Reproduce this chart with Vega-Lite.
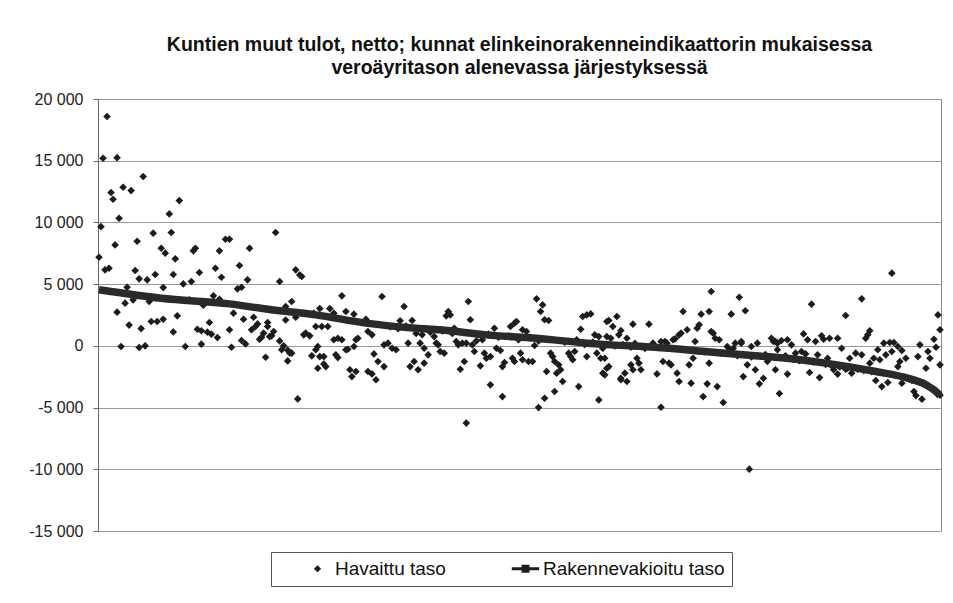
{
  "$schema": "https://vega.github.io/schema/vega-lite/v6.json",
  "width": 843,
  "height": 432,
  "autosize": {"type": "none"},
  "padding": {"left": 98, "top": 99, "right": 12, "bottom": 72},
  "background": "white",
  "title": {
    "text": ["Kuntien muut tulot, netto; kunnat elinkeinorakenneindikaattorin mukaisessa", "veroäyritason alenevassa järjestyksessä"],
    "anchor": "middle",
    "fontSize": 19.5,
    "fontWeight": "bold",
    "font": "Liberation Sans",
    "color": "#111",
    "lineHeight": 23,
    "offset": 13
  },
  "config": {
    "font": "Liberation Sans",
    "view": {"stroke": "#8a8a8a", "strokeWidth": 1},
    "axis": {"labelFont": "Liberation Sans"},
    "legend": {"labelFont": "Liberation Sans"}
  },
  "datasets": {
    "obs": [
      {"i":1,"v":7180},{"i":2,"v":9660},{"i":3,"v":15200},{"i":4,"v":6160},{"i":5,"v":18580},{"i":6,"v":6290},{"i":7,"v":12420},{"i":8,"v":11880},{"i":9,"v":8180},{"i":10,"v":15250},{"i":11,"v":10340},{"i":13,"v":12850},{"i":17,"v":12580},{"i":23,"v":13720},{"i":41,"v":11770},{"i":36,"v":10690},{"i":28,"v":9130},{"i":37,"v":9180},{"i":20,"v":8480},{"i":32,"v":7910},{"i":34,"v":7510},{"i":39,"v":7050},{"i":19,"v":6100},{"i":21,"v":5430},{"i":25,"v":5350},{"i":29,"v":5780},{"i":38,"v":5780},{"i":33,"v":4720},{"i":43,"v":5020},{"i":47,"v":5210},{"i":49,"v":7910},{"i":48,"v":7700},{"i":51,"v":5940},{"i":59,"v":6290},{"i":62,"v":5560},{"i":61,"v":7700},{"i":64,"v":8640},{"i":66,"v":8640},{"i":76,"v":7910},{"i":71,"v":6510},{"i":75,"v":5350},{"i":70,"v":4620},{"i":72,"v":4750},{"i":15,"v":4750},
      {"i":10,"v":2730},{"i":14,"v":3460},{"i":18,"v":3730},{"i":26,"v":3590},{"i":16,"v":1680},{"i":22,"v":1400},{"i":27,"v":1970},{"i":30,"v":1970},{"i":33,"v":2160},{"i":38,"v":1130},{"i":40,"v":2430},{"i":46,"v":3730},{"i":50,"v":1350},{"i":52,"v":1220},{"i":55,"v":1110},{"i":57,"v":950},{"i":60,"v":670},{"i":56,"v":1890},{"i":53,"v":3300},{"i":58,"v":4050},{"i":61,"v":3780},{"i":66,"v":1300},{"i":68,"v":2650},{"i":73,"v":2160},{"i":78,"v":2320},{"i":77,"v":1300},{"i":79,"v":1570},{"i":80,"v":1780},{"i":72,"v":430},{"i":74,"v":160},{"i":67,"v":-110},{"i":81,"v":540},{"i":82,"v":700},{"i":84,"v":-920},{"i":12,"v":-50},{"i":21,"v":-130},{"i":24,"v":0},{"i":44,"v":-50},{"i":52,"v":140},{"i":85,"v":1570},
      {"i":89,"v":9180},{"i":91,"v":5210},{"i":99,"v":6160},{"i":101,"v":5750},{"i":102,"v":5620},{"i":94,"v":3190},{"i":97,"v":3590},{"i":99,"v":2320},{"i":94,"v":2100},{"i":104,"v":1030},{"i":106,"v":810},{"i":109,"v":-320},{"i":110,"v":-50},{"i":111,"v":3020},{"i":116,"v":3020},{"i":118,"v":2650},{"i":122,"v":4050},{"i":112,"v":1570},{"i":115,"v":1570},{"i":118,"v":490},{"i":124,"v":2780},{"i":113,"v":-870},{"i":119,"v":-730},{"i":124,"v":-320},{"i":108,"v":2650},{"i":87,"v":810},{"i":91,"v":400},{"i":93,"v":0},{"i":96,"v":-570},{"i":95,"v":-350},{"i":83,"v":1030},
      {"i":142,"v":4000},{"i":153,"v":3190},{"i":128,"v":2570},{"i":134,"v":2160},{"i":151,"v":2030},{"i":157,"v":2050},{"i":85,"v":1890},{"i":109,"v":1570},{"i":103,"v":890},{"i":88,"v":1160},{"i":86,"v":750},{"i":120,"v":620},{"i":122,"v":490},{"i":129,"v":490},{"i":130,"v":620},{"i":135,"v":1160},{"i":137,"v":890},{"i":143,"v":80},{"i":145,"v":220},{"i":147,"v":-190},{"i":149,"v":-320},{"i":155,"v":220},{"i":161,"v":220},{"i":163,"v":-190},{"i":165,"v":-730},{"i":92,"v":-320},{"i":97,"v":-590},{"i":95,"v":-1220},{"i":107,"v":-810},{"i":111,"v":-870},{"i":120,"v":-950},{"i":125,"v":-270},{"i":128,"v":-50},{"i":110,"v":-1810},{"i":113,"v":-1480},{"i":114,"v":-1680},{"i":126,"v":-1940},{"i":127,"v":-2490},{"i":129,"v":-2080},{"i":135,"v":-2080},{"i":137,"v":-2270},{"i":139,"v":-2750},{"i":138,"v":-650},{"i":140,"v":-1270},{"i":143,"v":-1680},{"i":156,"v":-1680},{"i":158,"v":-1270},{"i":160,"v":-1940},{"i":163,"v":-1400},{"i":100,"v":-4300},{"i":168,"v":750},{"i":169,"v":220},{"i":132,"v":1900},{"i":146,"v":1550},{"i":150,"v":1400},{"i":154,"v":1600},{"i":159,"v":1000},{"i":162,"v":900},{"i":166,"v":1100},
      {"i":175,"v":2780},{"i":176,"v":2510},{"i":185,"v":3590},{"i":186,"v":2110},{"i":178,"v":1430},{"i":219,"v":3810},{"i":222,"v":3320},{"i":221,"v":2780},{"i":223,"v":2110},{"i":225,"v":2050},{"i":242,"v":2380},{"i":244,"v":2510},{"i":246,"v":2590},{"i":241,"v":1350},{"i":254,"v":1970},{"i":248,"v":890},{"i":250,"v":750},{"i":198,"v":1430},{"i":206,"v":1570},{"i":208,"v":1840},{"i":209,"v":1970},{"i":212,"v":1300},{"i":214,"v":1160},{"i":170,"v":80},{"i":173,"v":-590},{"i":171,"v":-460},{"i":179,"v":350},{"i":180,"v":80},{"i":182,"v":220},{"i":184,"v":220},{"i":187,"v":80},{"i":189,"v":400},{"i":192,"v":490},{"i":188,"v":-460},{"i":193,"v":-590},{"i":194,"v":-1000},{"i":196,"v":-870},{"i":199,"v":-190},{"i":201,"v":-380},{"i":183,"v":-1270},{"i":181,"v":-1890},{"i":191,"v":-1620},{"i":202,"v":-1680},{"i":203,"v":-1350},{"i":207,"v":-1000},{"i":208,"v":-1270},{"i":211,"v":-590},{"i":212,"v":-1130},{"i":215,"v":-1270},{"i":217,"v":-1270},{"i":218,"v":30},{"i":226,"v":-590},{"i":227,"v":-870},{"i":228,"v":-1270},{"i":230,"v":-1540},{"i":231,"v":-1940},{"i":229,"v":-2210},{"i":224,"v":-2080},{"i":232,"v":-2890},{"i":228,"v":-3700},{"i":223,"v":-4240},{"i":220,"v":-5000},{"i":196,"v":-3160},{"i":202,"v":-4110},{"i":184,"v":-6260},{"i":240,"v":-3300},{"i":235,"v":-590},{"i":236,"v":-870},{"i":238,"v":-460},{"i":237,"v":-1130},{"i":244,"v":-870},{"i":249,"v":-590},{"i":251,"v":-1000},{"i":253,"v":-2350},{"i":254,"v":-1810},{"i":250,"v":-4380},{"i":174,"v":2430},{"i":257,"v":1570},{"i":259,"v":2380},{"i":172,"v":1200},{"i":177,"v":1000},{"i":190,"v":900},{"i":195,"v":950},{"i":200,"v":700},{"i":205,"v":800},{"i":210,"v":500},{"i":216,"v":700},{"i":220,"v":400},{"i":233,"v":300},{"i":239,"v":500},{"i":243,"v":100},{"i":247,"v":300},{"i":252,"v":-200},
      {"i":306,"v":4400},{"i":320,"v":3940},{"i":323,"v":2840},{"i":316,"v":2570},{"i":292,"v":2780},{"i":301,"v":2570},{"i":305,"v":2780},{"i":300,"v":1700},{"i":299,"v":1430},{"i":294,"v":1300},{"i":291,"v":1030},{"i":288,"v":570},{"i":307,"v":1030},{"i":310,"v":490},{"i":298,"v":350},{"i":267,"v":1760},{"i":275,"v":1760},{"i":255,"v":2050},{"i":261,"v":1240},{"i":256,"v":620},{"i":336,"v":620},{"i":339,"v":220},{"i":329,"v":220},{"i":321,"v":220},{"i":317,"v":-190},{"i":283,"v":350},{"i":253,"v":-1000},{"i":255,"v":-1680},{"i":252,"v":-2210},{"i":261,"v":-2620},{"i":264,"v":-2890},{"i":263,"v":-2210},{"i":266,"v":-1540},{"i":267,"v":-1940},{"i":270,"v":-1400},{"i":271,"v":-1940},{"i":269,"v":-1000},{"i":279,"v":-2270},{"i":282,"v":-1270},{"i":285,"v":-1400},{"i":286,"v":-1540},{"i":289,"v":-2210},{"i":290,"v":-2890},{"i":295,"v":-1540},{"i":297,"v":-1000},{"i":305,"v":-1400},{"i":296,"v":-3020},{"i":302,"v":-4110},{"i":304,"v":-3080},{"i":309,"v":-3300},{"i":312,"v":-4590},{"i":281,"v":-4970},{"i":325,"v":-9990},{"i":322,"v":-2490},{"i":324,"v":-1540},{"i":328,"v":-1940},{"i":332,"v":-2620},{"i":330,"v":-3080},{"i":334,"v":-1270},{"i":338,"v":-1940},{"i":340,"v":-3860},{"i":287,"v":490},{"i":290,"v":890},{"i":306,"v":1160},{"i":308,"v":620},{"i":337,"v":350},{"i":254,"v":750},{"i":260,"v":890},{"i":264,"v":620},{"i":272,"v":-50},{"i":277,"v":220},{"i":281,"v":350},{"i":284,"v":220},{"i":314,"v":-50},{"i":318,"v":220},{"i":321,"v":350},{"i":326,"v":-50},{"i":258,"v":0},{"i":262,"v":100},{"i":266,"v":-100},{"i":268,"v":200},{"i":273,"v":-200},{"i":276,"v":-50},{"i":280,"v":-150},{"i":293,"v":-300},{"i":303,"v":-500},{"i":311,"v":-600},{"i":315,"v":-350},{"i":319,"v":-800},{"i":326,"v":-900},{"i":333,"v":-700},{"i":335,"v":-1000},{"i":261,"v":-2750},
      {"i":396,"v":5890},{"i":381,"v":3810},{"i":356,"v":3380},{"i":373,"v":2460},{"i":419,"v":2510},{"i":420,"v":1300},{"i":417,"v":540},{"i":418,"v":-110},{"i":385,"v":1220},{"i":384,"v":890},{"i":383,"v":620},{"i":352,"v":970},{"i":354,"v":490},{"i":358,"v":350},{"i":361,"v":810},{"i":362,"v":540},{"i":365,"v":620},{"i":369,"v":620},{"i":338,"v":350},{"i":341,"v":430},{"i":344,"v":490},{"i":346,"v":80},{"i":371,"v":-190},{"i":375,"v":-1000},{"i":378,"v":-590},{"i":381,"v":-730},{"i":389,"v":-320},{"i":393,"v":-730},{"i":395,"v":270},{"i":397,"v":270},{"i":396,"v":-460},{"i":401,"v":-380},{"i":403,"v":-1000},{"i":410,"v":80},{"i":409,"v":-870},{"i":414,"v":-460},{"i":415,"v":-1000},{"i":400,"v":-1270},{"i":399,"v":-1680},{"i":413,"v":-1810},{"i":420,"v":-1540},{"i":388,"v":-2810},{"i":391,"v":-3300},{"i":394,"v":-2970},{"i":401,"v":-3020},{"i":407,"v":-3700},{"i":408,"v":-4030},{"i":411,"v":-4320},{"i":344,"v":-2290},{"i":355,"v":-2160},{"i":360,"v":-2570},{"i":359,"v":-730},{"i":364,"v":-1000},{"i":367,"v":-1940},{"i":369,"v":-2290},{"i":373,"v":-1890},{"i":376,"v":-2210},{"i":339,"v":-320},{"i":343,"v":-810},{"i":348,"v":-590},{"i":351,"v":-460},{"i":353,"v":-650},{"i":387,"v":-1000},{"i":390,"v":-1130},{"i":385,"v":-1400},{"i":420,"v":-4000},{"i":392,"v":220},{"i":399,"v":-50},{"i":347,"v":-1100},{"i":350,"v":-1200},{"i":357,"v":-1300},{"i":363,"v":-1500},{"i":366,"v":-1600},{"i":370,"v":-1700},{"i":374,"v":-1800},{"i":379,"v":-1900},{"i":382,"v":-2000},{"i":386,"v":-2100},{"i":392,"v":-2200},{"i":398,"v":-2400},{"i":402,"v":-2500},{"i":405,"v":-2700},{"i":406,"v":-2800},{"i":412,"v":-3000},{"i":414,"v":-3200},{"i":416,"v":-3500}
    ],
    "fit": [
      {"i":1,"v":4550},{"i":32,"v":3860},{"i":66,"v":3400},{"i":87,"v":2920},{"i":109,"v":2510},{"i":134,"v":1840},{"i":159,"v":1430},{"i":171,"v":1300},{"i":194,"v":890},{"i":219,"v":620},{"i":244,"v":220},{"i":256,"v":80},{"i":278,"v":-110},{"i":303,"v":-460},{"i":328,"v":-810},{"i":341,"v":-970},{"i":363,"v":-1400},{"i":388,"v":-2080},{"i":404,"v":-2620},{"i":413,"v":-3160},{"i":418,"v":-3700},{"i":420,"v":-4050}
    ]
  },
  "layer": [
    {
      "data": {"name": "obs"},
      "mark": {"type": "point", "filled": true, "size": 58, "opacity": 1, "color": "#1c1c1c", "strokeWidth": 0},
      "encoding": {
        "x": {"field": "i", "type": "quantitative", "scale": {"domain": [0.5, 420.5], "nice": false, "zero": false}, "axis": null},
        "y": {
          "field": "v", "type": "quantitative",
          "scale": {"domain": [-15000, 20000], "nice": false, "zero": false},
          "axis": {
            "title": null,
            "values": [-15000, -10000, -5000, 0, 5000, 10000, 15000, 20000],
            "labelExpr": "(datum.value < 0 ? '-' : '') + replace(format(abs(datum.value), ','), ',', ' ')",
            "labelFontSize": 16,
            "labelColor": "#222",
            "labelPadding": 10,
            "tickSize": 5,
            "tickColor": "#666",
            "domainColor": "#666",
            "gridColor": "#9a9a9a",
            "gridWidth": 1
          }
        },
        "shape": {
          "datum": "Havaittu taso",
          "scale": {
            "domain": ["Havaittu taso", "Rakennevakioitu taso"],
            "range": ["diamond", "M-3.8,-0.42H3.8V0.42H-3.8Z M-1.1,-1.1H1.1V1.1H-1.1Z"]
          },
          "legend": {
            "title": null,
            "orient": "none",
            "legendX": 173,
            "legendY": 453,
            "direction": "horizontal",
            "columns": 2,
            "padding": 7,
            "strokeColor": "#555",
            "fillColor": "white",
            "symbolSize": 52,
            "symbolStrokeWidth": 0,
            "symbolFillColor": "#1c1c1c",
            "symbolOffset": 30,
            "labelOffset": 8,
            "columnPadding": 40,
            "labelFontSize": 19,
            "labelColor": "#111",
            "labelLimit": 400
          }
        }
      }
    },
    {
      "data": {"name": "fit"},
      "mark": {"type": "line", "color": "#2a2a2a", "strokeWidth": 7.5, "interpolate": "monotone"},
      "encoding": {
        "x": {"field": "i", "type": "quantitative"},
        "y": {"field": "v", "type": "quantitative"}
      }
    }
  ]
}
